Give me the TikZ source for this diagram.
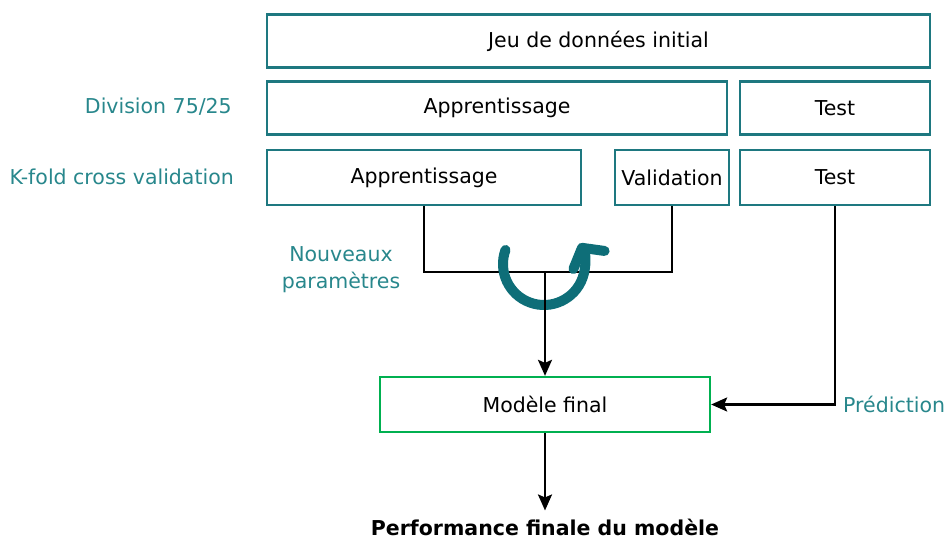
\documentclass[tikz,border=0pt]{standalone}
\usepackage{fontspec}
\setmainfont{DejaVu Sans}
\usetikzlibrary{arrows.meta}
\definecolor{tealbox}{RGB}{30,120,128}
\definecolor{tealtxt}{RGB}{40,135,140}
\definecolor{tealarc}{RGB}{14,110,120}
\definecolor{greenbox}{RGB}{0,176,80}
\begin{document}
\begin{tikzpicture}[x=1pt, y=-1pt,
    box/.style={draw=tealbox, line width=2.3pt, inner sep=0pt, minimum height=53pt, font=\fontsize{20.5}{24}\selectfont},
    lbl/.style={text=tealtxt, inner sep=0pt, font=\fontsize{20.5}{24}\selectfont},
    conn/.style={line width=2.3pt, -{Stealth[length=16pt, width=14pt, inset=3pt]}}]
    \useasboundingbox (0,0) rectangle (946,541);
    % boxes
    \node[box, minimum width=663pt] (data) at (598.5,41) {Jeu de données initial};
    \node[box, minimum width=460pt] (train1) at (497,108) {Apprentissage};
    \node[box, minimum width=190pt] (test1) at (835,108) {Test};
    \node[box, minimum width=314pt, minimum height=55pt] (train2) at (424,177.5) {Apprentissage};
    \node[box, minimum width=114pt, minimum height=55pt] (valid) at (672,177.5) {Validation};
    \node[box, minimum width=190pt, minimum height=55pt] (test2) at (835,177.5) {Test};
    \node[box, draw=greenbox, minimum width=330pt, minimum height=55pt] (final) at (545,404.5) {Modèle final};
    \node[inner sep=0pt, font=\fontsize{20.5}{24}\selectfont\bfseries] (perf) at (545,527) {Performance finale du modèle};
    % labels
    \node[lbl, anchor=east] (split) at (232,107) {Division 75/25};
    \node[lbl, anchor=east] (kfold) at (234,177) {K-fold cross validation};
    \node[lbl, align=center, font=\fontsize{20.5}{27}\selectfont] (params) at (341,270) {Nouveaux\\paramètres};
    \node[lbl, anchor=west] (pred) at (843,404) {Prédiction};
    % connectors
    \coordinate (join) at (545,272);
    \draw[line width=2.3pt] (train2.south) |- (join) -| (valid.south);
    % loop arrow
    \draw[tealarc, line width=10pt, line cap=round,
        -{Straight Barb[length=14pt, width=36pt, round]}]
        (join) ++(-1,-8) ++(200:41) arc[start angle=200, end angle=-30, radius=41];
    \draw[conn] (join) -- (final.north);
    \draw[conn] (test2.south) |- (final.east);
    \draw[conn, shorten >=8pt] (final.south) -- (perf.north);
\end{tikzpicture}
\end{document}
